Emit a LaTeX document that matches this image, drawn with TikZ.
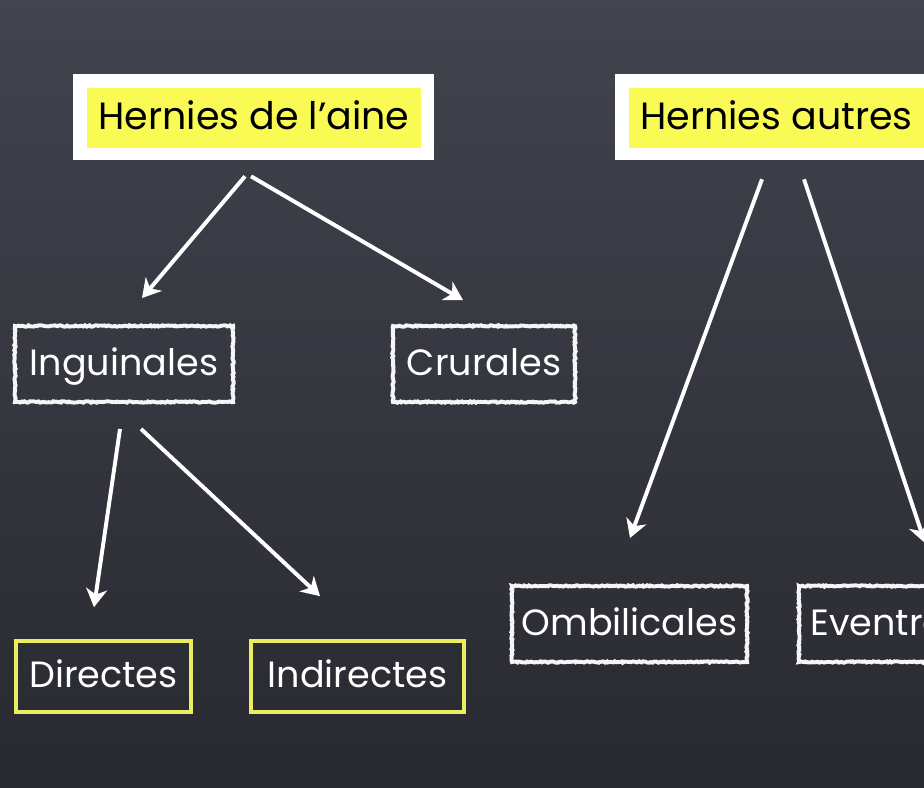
\documentclass[tikz,border=0pt]{standalone}
\usepackage{fontspec}
\setmainfont{Poppins}
\usepackage{tikz}
\usetikzlibrary{positioning,arrows.meta,calc,decorations.pathmorphing}

\definecolor{tableau}{RGB}{66,68,78}
\definecolor{tableaubas}{RGB}{40,41,48}
\definecolor{surligne}{RGB}{250,250,85}
\definecolor{jaunecraie}{RGB}{236,236,95}

\tikzset{
  cadre/.style={fill=white,inner sep=0pt},
  titre/.style={fill=surligne,text=black,inner sep=0pt,font=\fontsize{27}{32}\selectfont,
    text height=20pt,text depth=4pt},
  craie/.style={draw=white!92!gray,line width=2.8pt,text=white,inner sep=0pt,
    font=\fontsize{26}{30}\selectfont,minimum height=1.9cm,text height=20pt,text depth=4pt,
    decorate,decoration={random steps,segment length=1.2pt,amplitude=0.5pt}},
  jaune/.style={draw=jaunecraie,line width=2.6pt,text=white,inner sep=0pt,
    font=\fontsize{26}{30}\selectfont,minimum height=1.775cm,text height=20pt,text depth=4pt},
  fleche/.style={white,line width=2.8pt,-{Stealth[length=13pt,width=15pt,inset=4pt]}}
}

\begin{document}
\begin{tikzpicture}[x=0.025cm,y=-0.025cm]
    % Fond du tableau
    \useasboundingbox (0,0) rectangle (924,787);
    \clip (0,0) rectangle (924,787);
    \shade[top color=tableau,bottom color=tableaubas] (0,0) rectangle (924,787);

    % Titres
    \node[cadre,minimum width=9.03cm,minimum height=2.15cm] (aineframe) at (253.5,117) {};
    \node[titre,minimum width=8.35cm,minimum height=1.5cm] (aine) at (254,118) {Hernies de l’aine};
    \node[cadre,minimum width=8.08cm,minimum height=2.15cm] (autresframe) at (776.5,117) {};
    \node[titre,minimum width=7.38cm,minimum height=1.5cm] (autres) at (776.5,118) {Hernies autres};

    % Hernies de l'aine
    \node[craie,minimum width=5.45cm] (ingu) at (124,364) {Inguinales};
    \node[craie,minimum width=4.55cm] (crur) at (484,364) {Crurales};
    \node[jaune,minimum width=4.375cm] (dir) at (103.5,676.5) {Directes};
    \node[jaune,minimum width=5.325cm] (indir) at (357.5,676.5) {Indirectes};

    % Hernies autres
    \node[craie,minimum width=5.875cm] (omb) at (629.5,624) {Ombilicales};
    \node[craie,minimum width=6.2cm] (event) at (923,624) {Eventrations};

    % Flèches
    \draw[fleche] ($(aineframe.south)+(-8.5,16)$) -- ($(ingu.north)+(18,-26)$);
    \draw[fleche] ($(aineframe.south)+(-2.5,16)$) -- ($(crur.north)+(-21,-24)$);
    \draw[fleche] ($(ingu.south)+(-4,25)$) -- ($(dir.north)+(-9.5,-32)$);
    \draw[fleche] ($(ingu.south)+(17,25)$) -- ($(indir.north)+(-37.5,-43)$);
    \draw[fleche] ($(autresframe.south)+(-14.5,19)$) -- ($(omb.north)+(0.5,-46)$);
    \draw[fleche] ($(autresframe.south)+(27.5,19)$) -- ($(event.north)+(2,-41)$);
\end{tikzpicture}
\end{document}
